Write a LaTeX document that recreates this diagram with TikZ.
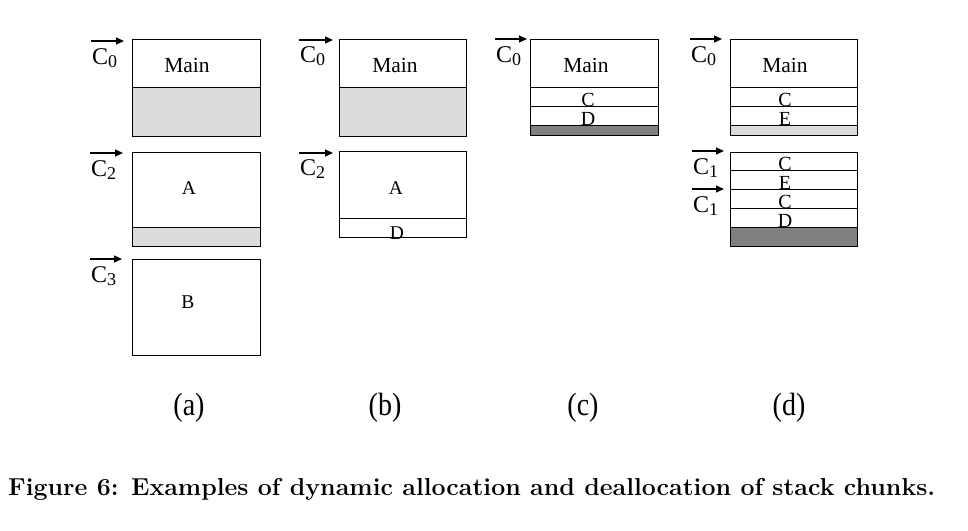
\documentclass[tikz,border=0pt]{standalone}
\usepackage{fontspec}
\usepackage{graphicx}
\usetikzlibrary{arrows.meta}
\newfontfamily\tnr{Liberation Serif}
\definecolor{lgray}{HTML}{DCDCDC}
\definecolor{dgray}{HTML}{808080}
\tikzset{
  seg/.style={draw=black, line width=1pt},
  lseg/.style={seg, fill=lgray},
  dseg/.style={seg, fill=dgray},
  ptr/.style={-{Triangle[length=8pt,width=7pt]}, line width=1.2pt},
  clab/.style={anchor=base west, inner sep=0pt, font=\tnr\fontsize{24}{24}\selectfont},
  mlab/.style={anchor=base, inner sep=0pt, font=\tnr\fontsize{21.5}{21.5}\selectfont},
  blab/.style={anchor=base, inner sep=0pt, font=\tnr\fontsize{19.5}{19.5}\selectfont},
  slab/.style={anchor=base, inner sep=0pt, font=\tnr\fontsize{20}{20}\selectfont},
  sublab/.style={anchor=center, inner sep=0pt, font=\tnr\fontsize{28}{28}\selectfont},
  caplab/.style={anchor=base west, inner sep=0pt, font=\bfseries\fontsize{24.5}{24.5}\selectfont},
}
\newcommand{\ptrname}[1]{C\raisebox{-3pt}{\fontsize{18}{18}\selectfont #1}}
\begin{document}
\begin{tikzpicture}[x=1pt,y=-1pt]
\useasboundingbox[fill=white] (0,0) rectangle (968,530);

% ---------- (a) ----------
\path[seg]  (132,39) rectangle (260,87);
\path[lseg] (132,87) rectangle (260,136);
\path[seg]  (132,152) rectangle (260,227);
\path[lseg] (132,227) rectangle (260,246);
\path[seg]  (132,259) rectangle (260,355);
\node[mlab] (aMain) at (187,72) {Main};
\node[blab] (aA) at (189,194) {A};
\node[blab] (aB) at (188,308) {B};
\coordinate (aP0s) at (91,41);  \coordinate (aP0e) at (124,41);
\coordinate (aP2s) at (90,153); \coordinate (aP2e) at (123,153);
\coordinate (aP3s) at (90,259); \coordinate (aP3e) at (122,259);
\draw[ptr] (aP0s) -- (aP0e);
\draw[ptr] (aP2s) -- (aP2e);
\draw[ptr] (aP3s) -- (aP3e);
\node[clab] (aC0) at (92,64) {\ptrname{0}};
\node[clab] (aC2) at (91,176) {\ptrname{2}};
\node[clab] (aC3) at (91,282) {\ptrname{3}};

% ---------- (b) ----------
\path[seg]  (339,39) rectangle (466,87);
\path[lseg] (339,87) rectangle (466,136);
\path[seg]  (339,151) rectangle (466,218);
\path[seg]  (339,218) rectangle (466,237);
\node[mlab] (bMain) at (395,72) {Main};
\node[blab] (bA) at (396,194) {A};
\node[blab] (bD) at (397,239) {D};
\coordinate (bP0s) at (299,40);  \coordinate (bP0e) at (333,40);
\coordinate (bP2s) at (299,153); \coordinate (bP2e) at (333,153);
\draw[ptr] (bP0s) -- (bP0e);
\draw[ptr] (bP2s) -- (bP2e);
\node[clab] (bC0) at (300,62) {\ptrname{0}};
\node[clab] (bC2) at (300,175) {\ptrname{2}};

% ---------- (c) ----------
\path[seg]  (530,39) rectangle (658,87);
\path[seg]  (530,87) rectangle (658,106);
\path[seg]  (530,106) rectangle (658,125);
\path[dseg] (530,125) rectangle (658,135);
\node[mlab] (cMain) at (586,72) {Main};
\node[slab] (cC) at (588,106) {C};
\node[slab] (cD) at (588,125) {D};
\coordinate (cP0s) at (495,39); \coordinate (cP0e) at (527,39);
\draw[ptr] (cP0s) -- (cP0e);
\node[clab] (cC0) at (496,62) {\ptrname{0}};

% ---------- (d) ----------
\path[seg]  (730,39) rectangle (857,87);
\path[seg]  (730,87) rectangle (857,106);
\path[seg]  (730,106) rectangle (857,125);
\path[lseg] (730,125) rectangle (857,135);
\path[seg]  (730,152) rectangle (857,170);
\path[seg]  (730,170) rectangle (857,189);
\path[seg]  (730,189) rectangle (857,208);
\path[seg]  (730,208) rectangle (857,227);
\path[dseg] (730,227) rectangle (857,246);
\node[mlab] (dMain) at (785,72) {Main};
\node[slab] (dC1) at (785,106) {C};
\node[slab] (dE1) at (785,125) {E};
\node[slab] (dC2) at (785,170) {C};
\node[slab] (dE2) at (785,189) {E};
\node[slab] (dC3) at (785,208) {C};
\node[slab] (dD) at (785,227) {D};
\coordinate (dP0s) at (690,39);  \coordinate (dP0e) at (722,39);
\coordinate (dP1s) at (692,151); \coordinate (dP1e) at (724,151);
\coordinate (dP2s) at (692,189); \coordinate (dP2e) at (724,189);
\draw[ptr] (dP0s) -- (dP0e);
\draw[ptr] (dP1s) -- (dP1e);
\draw[ptr] (dP2s) -- (dP2e);
\node[clab] (dC0) at (691,62) {\ptrname{0}};
\node[clab] (dC1p) at (693,174) {\ptrname{1}};
\node[clab] (dC2p) at (693,212) {\ptrname{1}};

% ---------- sub-captions ----------
\node[sublab] (la) at (189,408) {\scalebox{1}[1.15]{(a)}};
\node[sublab] (lb) at (385,408) {\scalebox{1}[1.15]{(b)}};
\node[sublab] (lc) at (583,408) {\scalebox{1}[1.15]{(c)}};
\node[sublab] (ld) at (789,408) {\scalebox{1}[1.15]{(d)}};

% ---------- caption ----------
\node[caplab] (cap) at (8,495) {\resizebox{927pt}{\height}{Figure 6: Examples of dynamic allocation and deallocation of stack chunks.}};
\end{tikzpicture}
\end{document}
